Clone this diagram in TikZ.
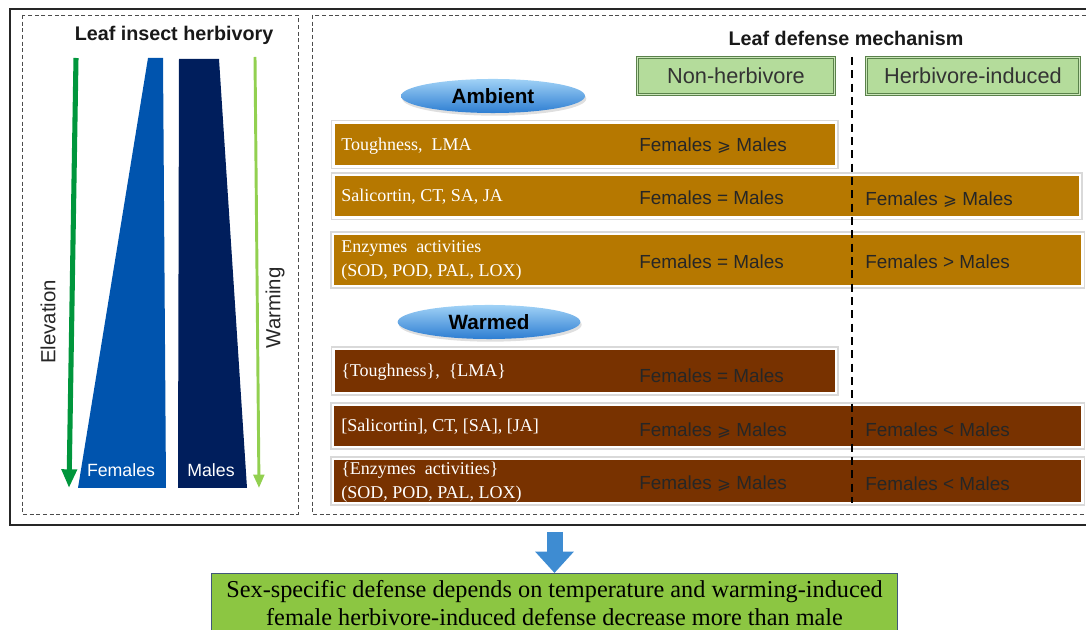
\documentclass[tikz,border=0pt]{standalone}
\usepackage{fontspec}
\setmainfont{Liberation Serif}
\setsansfont{Liberation Sans}
\newfontfamily\symfont{DejaVu Sans}
\usetikzlibrary{positioning,arrows.meta,shadows,shapes.geometric}

\definecolor{ambcol}{RGB}{182,120,0}
\definecolor{warmcol}{RGB}{120,50,0}
\definecolor{femblue}{RGB}{0,84,174}
\definecolor{malenavy}{RGB}{0,30,92}
\definecolor{elevgreen}{RGB}{0,150,60}
\definecolor{warmgreen}{RGB}{146,208,80}
\definecolor{hdrfill}{RGB}{180,220,155}
\definecolor{hdrline}{RGB}{90,130,75}
\definecolor{ellhi}{RGB}{160,210,246}
\definecolor{elllo}{RGB}{45,125,210}
\definecolor{resgreen}{RGB}{140,198,66}
\definecolor{resline}{RGB}{65,87,122}
\definecolor{arrowblue}{RGB}{62,140,210}

\newcommand{\geqs}{{\symfont\fontsize{12.5}{16}\selectfont ⩾}}

\tikzset{
  dashbox/.style={draw=black!70, dashed, dash pattern=on 3pt off 2pt, line width=0.5pt},
  ambbar/.style={fill=ambcol, draw=white, line width=2pt, preaction={draw=black!15, line width=4pt}},
  warmbar/.style={fill=warmcol, draw=white, line width=2pt, preaction={draw=black!15, line width=4pt}},
  lefttxt/.style={anchor=west, text=white, font=\fontsize{13.5}{18}\selectfont, align=left, inner sep=0pt},
  cmptxt/.style={anchor=west, text=black!85, font=\sffamily\fontsize{14.2}{16}\selectfont, inner sep=0pt},
  hdrbox/.style={fill=hdrfill, draw=hdrline, line width=0.9pt, double=hdrfill!70!white, double distance=0.9pt, font=\sffamily\fontsize{16.3}{18}\selectfont, text=black!80},
  condition/.style={ellipse, top color=ellhi, bottom color=elllo, font=\sffamily\bfseries\fontsize{15.5}{18}\selectfont,
    drop shadow={opacity=0.25, shadow xshift=1pt, shadow yshift=-2pt}},
  title/.style={font=\sffamily\bfseries\fontsize{14.8}{18}\selectfont, text=black!90}
}

\begin{document}
\begin{tikzpicture}[x=0.75pt, y=-0.75pt]
    \useasboundingbox (0,0) rectangle (1086,630);

    % Frames
    \draw[black!85, line width=1.1pt] (10,9) rectangle (1095,525);
    \coordinate (frameS) at (553,525);
    \draw[dashbox] (22,15) rectangle (298,514);
    \draw[dashbox] (312,15) rectangle (1090,514);

    % Leaf insect herbivory
    \node[title] (herbtitle) at (174,35) {Leaf insect herbivory};
    \fill[femblue] (148,58) -- (163,58) -- (166,488) -- (78,488) -- cycle;
    \fill[malenavy] (179,59) -- (219,59) -- (247,488) -- (178,488) -- cycle;
    \node[text=white, font=\sffamily\fontsize{13.3}{16}\selectfont] (fem) at (121,470) {Females};
    \node[text=white, font=\sffamily\fontsize{13.3}{16}\selectfont] (male) at (211,470) {Males};

    \coordinate (elevTop) at (76,58);
    \coordinate (elevBot) at (69,488);
    \draw[elevgreen, line width=3.8pt, -{Triangle[width=11pt, length=14pt]}] (elevTop) -- (elevBot);
    \node[rotate=90, font=\sffamily\fontsize{15.3}{18}\selectfont, text=black!85] (elev) at (48,322) {Elevation};
    \coordinate (warmTop) at (255,57);
    \coordinate (warmBot) at (259,488);
    \draw[warmgreen, line width=2.2pt, -{Triangle[width=8pt, length=10pt]}] (warmTop) -- (warmBot);
    \node[rotate=90, font=\sffamily\fontsize{15.3}{18}\selectfont, text=black!85] (warmlab) at (275,308) {Warming};

    % Leaf defense mechanism
    \node[title] (deftitle) at (846,38) {Leaf defense mechanism};
    \node[hdrbox, minimum width=148pt, minimum height=28pt] (nonherb) at (736,76) {Non-herbivore};
    \node[hdrbox, minimum width=160pt, minimum height=28pt] (herbind) at (973,76) {Herbivore-induced};

    % Ambient rows
    \node[condition, minimum width=138pt, minimum height=25pt] (ambient) at (493,96) {Ambient};
    \node[ambbar, minimum width=377pt, minimum height=33pt] (tough) at (584.5,144.5) {};
    \node[ambbar, minimum width=560pt, minimum height=32pt] (salic) at (706.5,196.5) {};
    \node[ambbar, minimum width=562pt, minimum height=39pt] (enzym) at (707.5,260) {};
    \node[lefttxt] (toughL) at (341,146) {Toughness,\ \ LMA};
    \node[lefttxt] (salicL) at (341,197) {Salicortin, CT, SA, JA};
    \node[lefttxt] (enzymL) at (341,260) {Enzymes\ \ activities\\(SOD, POD, PAL, LOX)};
    \node[cmptxt] (toughN) at (639,146) {Females \geqs{} Males};
    \node[cmptxt] (salicN) at (639,198) {Females = Males};
    \node[cmptxt] (salicH) at (865,200) {Females \geqs{} Males};
    \node[cmptxt] (enzymN) at (639,262) {Females = Males};
    \node[cmptxt] (enzymH) at (865,262) {Females > Males};

    % Warmed rows
    \node[condition, minimum width=137pt, minimum height=25pt] (warmed) at (489,322) {Warmed};
    \node[warmbar, minimum width=377pt, minimum height=33pt] (wtough) at (584.5,371) {};
    \node[warmbar, minimum width=562pt, minimum height=31.5pt] (wsalic) at (707.5,426) {};
    \node[warmbar, minimum width=562pt, minimum height=33pt] (wenzym) at (707.5,481) {};
    \node[lefttxt] (wtoughL) at (341,372) {\{Toughness\},\ \ \{LMA\}};
    \node[lefttxt] (wsalicL) at (341,427) {[Salicortin], CT, [SA], [JA]};
    \node[lefttxt] (wenzymL) at (341,482) {\{Enzymes\ \ activities\}\\(SOD, POD, PAL, LOX)};
    \node[cmptxt] (wtoughN) at (639,376) {Females = Males};
    \node[cmptxt] (wsalicN) at (639,431) {Females \geqs{} Males};
    \node[cmptxt] (wsalicH) at (865,430) {Females < Males};
    \node[cmptxt] (wenzymN) at (639,484) {Females \geqs{} Males};
    \node[cmptxt] (wenzymH) at (865,484) {Females < Males};

    % Divider
    \coordinate (divTop) at (852,57);
    \coordinate (divBot) at (852,503);
    \draw[black, line width=1pt, dash pattern=on 6pt off 4pt] (divTop) -- (divBot);

    % Conclusion
    \node[fill=resgreen, draw=resline, line width=0.8pt, minimum width=514pt, minimum height=45pt,
      align=center, font=\fontsize{18.2}{21}\selectfont, anchor=north] (result) at (554.5,573)
      {Sex-specific defense depends on temperature and warming-induced\\female herbivore-induced defense decrease more than male};
    \draw[arrowblue, line width=12pt, shorten <=5.25pt, -{Triangle[width=28pt, length=16pt]}] (frameS -| result.north) -- (result.north);
\end{tikzpicture}
\end{document}
